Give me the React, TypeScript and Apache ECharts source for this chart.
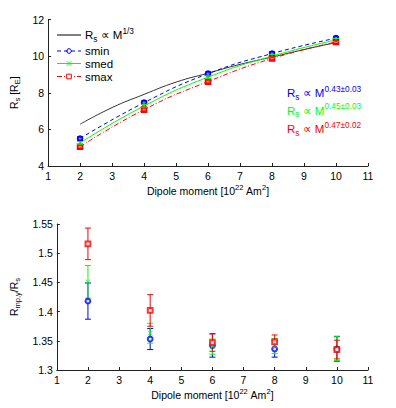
import React, { useEffect, useRef } from "react";
import * as echarts from "echarts";

const moments = [2, 4, 6, 8, 10];
const refX = [2, 3, 4, 5, 6, 7, 8, 9, 10];
const refRs = [6.28, 7.19, 7.91, 8.58, 9.07, 9.55, 9.95, 10.36, 10.74];

const sminRs = [5.5, 7.46, 9.04, 10.14, 10.98];
const smedRs = [5.26, 7.28, 8.85, 10.0, 10.88];
const smaxRs = [5.05, 7.08, 8.61, 9.87, 10.77];
const sminRsErr = [0.1, 0.1, 0.1, 0.1, 0.1];
const smedRsErr = [0.08, 0.08, 0.08, 0.08, 0.08];
const smaxRsErr = [0.08, 0.08, 0.08, 0.08, 0.08];

const sminRatio = [1.418, 1.353, 1.342, 1.336, 1.336];
const smedRatio = [1.451, 1.363, 1.34, 1.341, 1.337];
const smaxRatio = [1.516, 1.402, 1.347, 1.348, 1.335];
const sminRatioErr = [0.031, 0.018, 0.02, 0.014, 0.021];
const smedRatioErr = [0.028, 0.017, 0.013, 0.013, 0.021];
const smaxRatioErr = [0.027, 0.027, 0.015, 0.012, 0.016];

const xTicks = { min: 1, max: 11, interval: 1 };
const fitLabels = ["0.43±0.03", "0.45±0.03", "0.47±0.02"];
const seriesNames = ["smin", "smed", "smax"];

const BLUE = "#0000ff";
const GREEN = "#00ff00";
const RED = "#ff0000";
const FONT = "Liberation Sans, Arial, sans-serif";
const CROSS = "path://M0,0L10,10M10,0L0,10";

const rich = (fs: number, color: string) => ({
  r: { fontSize: fs, lineHeight: 16, fill: color, color, fontFamily: FONT },
  sup: { fontSize: fs * 0.72, lineHeight: 8, verticalAlign: "top", fill: color, color, fontFamily: FONT },
  sub: { fontSize: fs * 0.72, lineHeight: 8, verticalAlign: "bottom", fill: color, color, fontFamily: FONT },
});

function errData(xs: number[], ys: number[], es: number[]) {
  return xs.map((x, i) => [x, ys[i], ys[i] - es[i], ys[i] + es[i]]);
}

function errSeries(data: number[][], color: string, idx: number) {
  return {
    type: "custom",
    xAxisIndex: idx,
    yAxisIndex: idx,
    silent: true,
    z: 3,
    data,
    renderItem: (params: any, api: any) => {
      const x = api.value(0);
      const lo = api.coord([x, api.value(2)]);
      const hi = api.coord([x, api.value(3)]);
      const w = 3;
      const st = { stroke: color, lineWidth: 1 };
      return {
        type: "group",
        children: [
          { type: "line", shape: { x1: lo[0], y1: lo[1], x2: hi[0], y2: hi[1] }, style: st },
          { type: "line", shape: { x1: lo[0] - w, y1: lo[1], x2: lo[0] + w, y2: lo[1] }, style: st },
          { type: "line", shape: { x1: hi[0] - w, y1: hi[1], x2: hi[0] + w, y2: hi[1] }, style: st },
        ],
      };
    },
  };
}

const axisCommon = {
  axisLine: { show: true, onZero: false, lineStyle: { color: "#222", width: 1 } },
  axisTick: { show: true, inside: true, length: 3, lineStyle: { color: "#222" } },
  splitLine: { show: false },
  axisLabel: { color: "#000", fontSize: 10.5, fontFamily: FONT, margin: 4 },
};

const xName = "{r|Dipole moment [10}{sup|22}{r| Am}{sup|2}{r|]}";

export default function App() {
  const ref = useRef<HTMLDivElement>(null);
  useEffect(() => {
    const chart = echarts.init(ref.current!, null, { renderer: "svg" });
    const markerStyle = (c: string) => ({ color: c, borderColor: c, borderWidth: 0.9 });

    const legendItems = [
      { name: "{r|R}{sub|s}{r| ∝ M}{sup|1/3}", color: "#000", dash: "solid", symbol: null, y: 35 },
      { name: "{r|" + seriesNames[0] + "}", color: BLUE, dash: [4, 3], symbol: "circle", y: 51 },
      { name: "{r|" + seriesNames[1] + "}", color: GREEN, dash: "solid", symbol: "cross", y: 63.5 },
      { name: "{r|" + seriesNames[2] + "}", color: RED, dash: [5, 2, 1, 2], symbol: "rect", y: 76.5 },
    ];
    const graphics: any[] = [];
    legendItems.forEach((it) => {
      graphics.push({
        type: "line",
        shape: { x1: 57, y1: it.y, x2: 81, y2: it.y },
        style: { stroke: it.color, lineWidth: 1, lineDash: it.dash === "solid" ? null : it.dash },
      });
      if (it.symbol === "circle") {
        graphics.push({ type: "circle", shape: { cx: 69, cy: it.y, r: 2.3 }, style: { fill: "none", stroke: it.color } });
      } else if (it.symbol === "rect") {
        graphics.push({ type: "rect", shape: { x: 66.7, y: it.y - 2.3, width: 4.6, height: 4.6 }, style: { fill: "#fff", stroke: it.color } });
      } else if (it.symbol === "cross") {
        graphics.push({ type: "line", shape: { x1: 66.7, y1: it.y - 2.3, x2: 71.3, y2: it.y + 2.3 }, style: { stroke: it.color } });
        graphics.push({ type: "line", shape: { x1: 66.7, y1: it.y + 2.3, x2: 71.3, y2: it.y - 2.3 }, style: { stroke: it.color } });
      }
      graphics.push({
        type: "text",
        x: 85,
        y: it.y,
        style: { text: it.name, rich: rich(11.5, "#000"), verticalAlign: "middle", fill: "#000" },
      });
    });
    const fitColors = [BLUE, GREEN, RED];
    const fitY = [93, 110.5, 129];
    fitLabels.forEach((lab, i) => {
      graphics.push({
        type: "text",
        x: 287,
        y: fitY[i],
        style: {
          text: "{r|R}{sub|s}{r| ∝ M}{sup|" + lab + "}",
          rich: rich(11.5, fitColors[i]),
          verticalAlign: "middle",
          fill: fitColors[i],
        },
      });
    });

    chart.setOption({
      animation: false,
      textStyle: { fontFamily: FONT },
      graphic: graphics,
      grid: [
        { left: 48, right: 28, top: 19.5, height: 146.5 },
        { left: 48, right: 28, top: 224, height: 146 },
      ],
      xAxis: [0, 1].map((i) => ({
        ...axisCommon,
        type: "value",
        gridIndex: i,
        ...xTicks,
        name: xName,
        nameLocation: "middle",
        nameGap: 17,
        nameTextStyle: { rich: rich(10.5, "#000") },
      })),
      yAxis: [
        {
          ...axisCommon,
          type: "value",
          gridIndex: 0,
          min: 4,
          max: 12,
          interval: 2,
          name: "{r|R}{sub|s}{r| [R}{sub|E}{r|]}",
          nameLocation: "middle",
          nameRotate: 90,
          nameGap: 11,
          nameTextStyle: { rich: rich(10.5, "#000") },
        },
        {
          ...axisCommon,
          type: "value",
          gridIndex: 1,
          min: 1.3,
          max: 1.55,
          interval: 0.05,
          name: "{r|R}{sub|mp,y}{r|/R}{sub|s}",
          nameLocation: "middle",
          nameRotate: 90,
          nameGap: 33,
          nameTextStyle: { rich: rich(10.5, "#000") },
        },
      ],
      series: [
        {
          type: "line",
          data: refX.map((x, i) => [x, refRs[i]]),
          smooth: true,
          showSymbol: false,
          lineStyle: { color: "#333", width: 1 },
          z: 2,
        },
        {
          type: "line",
          data: moments.map((x, i) => [x, sminRs[i]]),
          smooth: true,
          symbol: "emptyCircle",
          symbolSize: 4.6,
          itemStyle: markerStyle(BLUE),
          lineStyle: { color: BLUE, width: 1, type: [4, 3] },
          z: 2,
        },
        {
          type: "line",
          data: moments.map((x, i) => [x, smedRs[i]]),
          smooth: true,
          symbol: CROSS,
          symbolSize: 4.6,
          itemStyle: markerStyle(GREEN),
          lineStyle: { color: GREEN, width: 1 },
          z: 2,
        },
        {
          type: "line",
          data: moments.map((x, i) => [x, smaxRs[i]]),
          smooth: true,
          symbol: "emptyRect",
          symbolSize: 4.6,
          itemStyle: markerStyle(RED),
          lineStyle: { color: RED, width: 1, type: [5, 2, 1, 2] },
          z: 2,
        },
        errSeries(errData(moments, sminRs, sminRsErr), BLUE, 0),
        errSeries(errData(moments, smedRs, smedRsErr), GREEN, 0),
        errSeries(errData(moments, smaxRs, smaxRsErr), RED, 0),
        errSeries(errData(moments, sminRatio, sminRatioErr), BLUE, 1),
        errSeries(errData(moments, smedRatio, smedRatioErr), GREEN, 1),
        errSeries(errData(moments, smaxRatio, smaxRatioErr), RED, 1),
        {
          type: "scatter",
          xAxisIndex: 1,
          yAxisIndex: 1,
          data: moments.map((x, i) => [x, sminRatio[i]]),
          symbol: "emptyCircle",
          symbolSize: 4.8,
          itemStyle: markerStyle(BLUE),
          z: 4,
        },
        {
          type: "scatter",
          xAxisIndex: 1,
          yAxisIndex: 1,
          data: moments.map((x, i) => [x, smedRatio[i]]),
          symbol: CROSS,
          symbolSize: 4.5,
          itemStyle: markerStyle(GREEN),
          z: 4,
        },
        {
          type: "scatter",
          xAxisIndex: 1,
          yAxisIndex: 1,
          data: moments.map((x, i) => [x, smaxRatio[i]]),
          symbol: "emptyRect",
          symbolSize: 4.8,
          itemStyle: markerStyle(RED),
          z: 4,
        },
      ],
    });
    return () => chart.dispose();
  }, []);
  return (
    <div
      ref={ref}
      style={{ position: "absolute", left: 0, top: 0, width: 396, height: 408, background: "#fff" }}
    />
  );
}
